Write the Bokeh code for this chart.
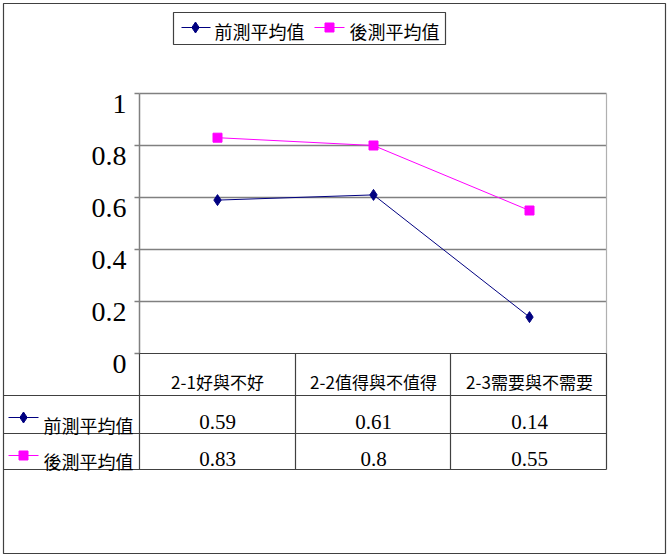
from bokeh.plotting import figure
from bokeh.models import Range1d
from bokeh.embed import file_html
from bokeh.resources import INLINE
from bokeh.core.properties import value

# ---------------- data ----------------
categories = ["2-1好與不好", "2-2值得與不值得", "2-3需要與不需要"]
series_names = ["前測平均值", "後測平均值"]
pre_values = [0.59, 0.61, 0.14]
post_values = [0.83, 0.80, 0.55]
y_ticks = [0, 0.2, 0.4, 0.6, 0.8, 1.0]
y_tick_labels = ["0", "0.2", "0.4", "0.6", "0.8", "1"]

pre_color = "#000080"
post_color = "#FF00FF"
grid_color = "#808080"
border_color = "#404040"
CJK = "Noto Sans CJK TC"
NUM = "serif"

# ---------------- canvas mapping ----------------
W, H = 667, 554
X0_PX, DX_PX = 217, 156    # pixel x of first category, pixels per category
Y0_PX, DY_PX = 353, 260    # pixel y of value 0, pixels per unit value


def X(px):
    return (px - X0_PX) / DX_PX


def Y(py):
    return (Y0_PX - py) / DY_PX


p = figure(width=W, height=H, x_range=Range1d(X(0), X(W)), y_range=Range1d(Y(H), Y(0)),
           output_backend="svg", toolbar_location=None, min_border=0)
p.axis.visible = False
p.grid.visible = False
p.outline_line_color = None
p.background_fill_color = "white"
p.border_fill_color = "white"

# outer chart border
p.quad(left=X(3), right=X(665), top=Y(3), bottom=Y(553), fill_color=None,
       line_color=border_color, line_width=1.2)

# plot area: gridlines, axis, ticks, right edge
left_px, right_px = 139, 606
p.segment(x0=X(left_px), x1=X(right_px), y0=y_ticks[1:], y1=y_ticks[1:],
          line_color=grid_color, line_width=1.5)
p.segment(x0=X(left_px), x1=X(left_px), y0=0, y1=1.0, line_color=grid_color, line_width=1.5)
p.segment(x0=X(right_px), x1=X(right_px), y0=0, y1=1.0, line_color="#b0b0b0", line_width=1.2)
p.segment(x0=X(134), x1=X(left_px), y0=y_ticks, y1=y_ticks, line_color=grid_color, line_width=1.5)

# y tick labels
label_shift = 10 / DY_PX
p.text(x=X(126), y=[t - label_shift for t in y_ticks], text=y_tick_labels,
       text_align="right", text_baseline="middle", text_font=value(NUM),
       text_font_size="28px", text_color="black")

# ---------------- data table ----------------
row_top, row1, row2, row_bot = 353, 395, 433, 469
col_edges = [left_px, 295, 450, right_px]
# horizontal lines
p.segment(x0=X(left_px), x1=X(right_px), y0=Y(row_top), y1=Y(row_top), line_color=border_color, line_width=1.2)
p.segment(x0=[X(3)] * 3, x1=[X(right_px)] * 3, y0=[Y(row1), Y(row2), Y(row_bot)],
          y1=[Y(row1), Y(row2), Y(row_bot)], line_color=border_color, line_width=1.2)
# vertical lines
p.segment(x0=[X(c) for c in col_edges], x1=[X(c) for c in col_edges],
          y0=Y(row_top), y1=Y(row_bot), line_color=border_color, line_width=1.2)

# header (categories)
cat_x = list(range(len(categories)))
p.text(x=cat_x, y=Y(381), text=categories, text_align="center", text_baseline="middle",
       text_font=value(CJK), text_font_size="17px", text_color="black")

# values
p.text(x=cat_x, y=Y(421), text=[f"{v:g}" for v in pre_values], text_align="center",
       text_baseline="middle", text_font=value(NUM), text_font_size="21px", text_color="black")
p.text(x=cat_x, y=Y(458), text=[f"{v:g}" for v in post_values], text_align="center",
       text_baseline="middle", text_font=value(NUM), text_font_size="21px", text_color="black")

# row keys
p.segment(x0=X(8), x1=X(38), y0=Y(417), y1=Y(417), line_color=pre_color, line_width=1)
p.scatter(x=[X(23)], y=[Y(417)], marker="diamond", size=11, color=pre_color)
p.segment(x0=X(8), x1=X(38), y0=Y(455), y1=Y(455), line_color=post_color, line_width=1)
p.scatter(x=[X(23)], y=[Y(455)], marker="square", size=9, color=post_color)
p.text(x=X(43), y=[Y(424), Y(460)], text=series_names, text_align="left", text_baseline="middle",
       text_font=value(CJK), text_font_size="18px", text_color="black")

# ---------------- series ----------------
p.line(x=cat_x, y=pre_values, line_color=pre_color, line_width=1)
p.scatter(x=cat_x, y=pre_values, marker="diamond", size=11, color=pre_color)
p.line(x=cat_x, y=post_values, line_color=post_color, line_width=1)
p.scatter(x=cat_x, y=post_values, marker="square", size=9, color=post_color)

# ---------------- legend ----------------
p.quad(left=X(173), right=X(445), top=Y(12), bottom=Y(44), fill_color="white",
       line_color=border_color, line_width=1.2)
p.segment(x0=X(181), x1=X(210), y0=Y(27), y1=Y(27), line_color=pre_color, line_width=1)
p.scatter(x=[X(195)], y=[Y(27)], marker="diamond", size=11, color=pre_color)
p.segment(x0=X(314), x1=X(344), y0=Y(27), y1=Y(27), line_color=post_color, line_width=1)
p.scatter(x=[X(329)], y=[Y(27)], marker="square", size=9, color=post_color)
p.text(x=[X(214), X(349)], y=Y(30), text=series_names, text_align="left", text_baseline="middle",
       text_font=value(CJK), text_font_size="18px", text_color="black")

open("out.html", "w").write(file_html(p, INLINE))
